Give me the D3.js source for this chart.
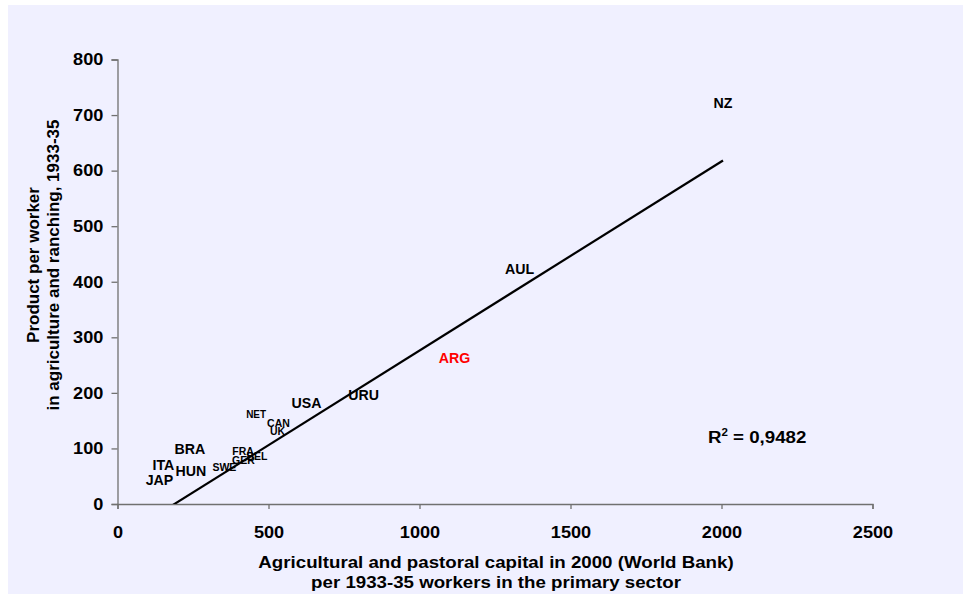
<!DOCTYPE html>
<html>
<head>
<meta charset="utf-8">
<script src="https://cdn.jsdelivr.net/npm/d3@7"></script>
<style>
  html, body { margin: 0; padding: 0; background: #ffffff; }
  svg { display: block; }
  text { font-family: "Liberation Sans", Arial, sans-serif; font-weight: bold; }
</style>
</head>
<body>
<svg id="chart" width="969" height="594"></svg>
<script>
// ---- Data ----
const countries = ["NZ", "AUL", "ARG", "URU", "USA", "NET", "CAN", "UK", "BRA", "FRA", "BEL", "GER", "SWE", "ITA", "HUN", "JAP"];
const capital   = [2005, 1331, 1116, 815, 626, 459, 533, 530, 240, 416, 462, 417, 354, 152, 243, 139];
const product   = [722, 424, 264, 196, 182, 162, 146, 131, 99, 95, 86, 79, 67, 70, 59, 43];
const trendSlope = 0.3404;
const trendIntercept = -64.2;
const rSquaredText = "0,9482";
const xTicks = [0, 500, 1000, 1500, 2000, 2500];
const yTicks = [0, 100, 200, 300, 400, 500, 600, 700, 800];
const xTitle = ["Agricultural and pastoral capital in 2000 (World Bank)", "per 1933-35 workers in the primary sector"];
const yTitle = ["Product per worker", "in agriculture and ranching, 1933-35"];

// ---- Styles ----
const smallLabels = { NET: 10, CAN: 10.5, UK: 10.5, FRA: 10.5, GER: 10.5, BEL: 10.5, SWE: 10.5 };
const defaultLabelSize = 14.2;
const labelColor = { ARG: "#ff0000" };
const stretchX = 1.1;

const svg = d3.select("#chart");
svg.append("rect").attr("x", 8).attr("y", 5).attr("width", 955).attr("height", 589).attr("fill", "#f0f0ff");

const pL = 117.5, pR = 872.5, pT = 59.5, pB = 504;
const x = d3.scaleLinear().domain([0, 2500]).range([pL, pR]);
const y = d3.scaleLinear().domain([0, 800]).range([pB, pT]);

const axisColor = "#707070";

// X axis
const gx = svg.append("g").attr("transform", `translate(0,${pB})`)
  .call(d3.axisBottom(x).tickValues(xTicks).tickSize(5).tickPadding(17).tickFormat(d3.format("d")));
gx.select(".domain").attr("stroke", axisColor).attr("stroke-width", 1.3);
gx.selectAll(".tick line").attr("stroke", axisColor).attr("stroke-width", 1.3);
gx.selectAll(".tick text")
  .style("font-size", "16.5px").style("font-family", "Liberation Sans, Arial, sans-serif")
  .style("font-weight", "bold").style("fill", "#000")
  .attr("transform", `scale(${stretchX},1)`);

// Y axis
const gy = svg.append("g").attr("transform", `translate(${pL},0)`)
  .call(d3.axisLeft(y).tickValues(yTicks).tickSize(6).tickPadding(8).tickFormat(d3.format("d")));
gy.select(".domain").attr("stroke", axisColor).attr("stroke-width", 1.3);
gy.selectAll(".tick line").attr("stroke", axisColor).attr("stroke-width", 1.3);
gy.selectAll(".tick text")
  .style("font-size", "16.5px").style("font-family", "Liberation Sans, Arial, sans-serif")
  .style("font-weight", "bold").style("fill", "#000")
  .attr("x", -14.2 / stretchX)
  .attr("transform", `scale(${stretchX},1)`);

// Trend line (clipped to the plot area)
svg.append("clipPath").attr("id", "plotClip").append("rect")
  .attr("x", pL).attr("y", pT).attr("width", pR - pL).attr("height", pB - pT);
const xMin = d3.min(capital), xMax = d3.max(capital);
const trend = [xMin, xMax].map(v => ({ x: v, y: trendSlope * v + trendIntercept }));
svg.append("path")
  .datum(trend)
  .attr("clip-path", "url(#plotClip)")
  .attr("fill", "none").attr("stroke", "#000").attr("stroke-width", 2.2)
  .attr("d", d3.line().x(d => x(d.x)).y(d => y(d.y)));

// Data labels (centred on each point)
const pts = countries.map((c, i) => ({ name: c, cx: capital[i], cy: product[i] }));
svg.append("g").selectAll("text").data(pts).join("text")
  .attr("transform", d => `translate(${x(d.cx)},${y(d.cy)}) scale(1,1.08)`)
  .attr("text-anchor", "middle")
  .attr("dominant-baseline", "central")
  .style("font-size", d => (smallLabels[d.name] || defaultLabelSize) + "px")
  .style("fill", d => labelColor[d.name] || "#000")
  .text(d => d.name);

// R squared
const rt = svg.append("text").attr("transform", `translate(708,443) scale(${stretchX},1)`)
  .style("font-size", "17px").style("fill", "#000");
rt.append("tspan").text("R");
rt.append("tspan").attr("dy", -7).style("font-size", "10.5px").text("2");
rt.append("tspan").attr("dy", 7).text(" = " + rSquaredText);

// Axis titles
const xt1 = svg.append("text").attr("text-anchor", "middle").style("font-size", "17px").style("fill", "#000")
  .attr("transform", `translate(496,568) scale(${stretchX},1)`).text(xTitle[0]);
const xt2 = svg.append("text").attr("text-anchor", "middle").style("font-size", "17px").style("fill", "#000")
  .attr("transform", `translate(496,588) scale(${stretchX},1)`).text(xTitle[1]);

const yt = svg.append("text").attr("text-anchor", "middle").style("font-size", "17px").style("fill", "#000")
  .attr("transform", "translate(0,265) rotate(-90)");
yt.append("tspan").attr("x", 0).attr("y", 39).text(yTitle[0]);
yt.append("tspan").attr("x", 0).attr("y", 59).text(yTitle[1]);
</script>
</body>
</html>
